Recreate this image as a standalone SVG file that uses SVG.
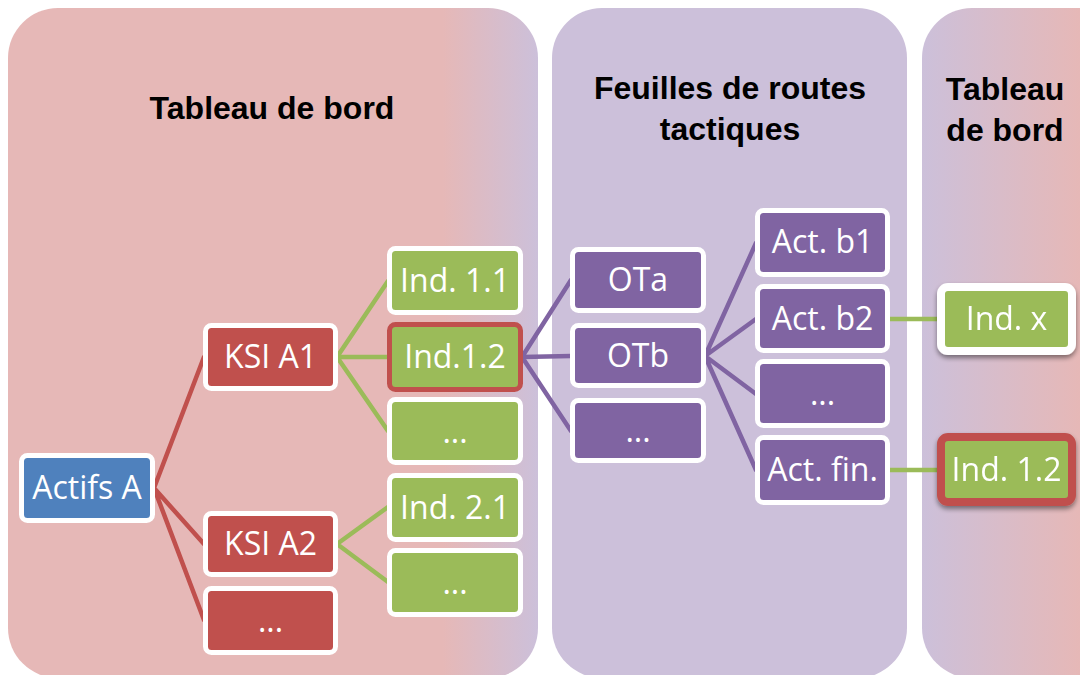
<svg xmlns="http://www.w3.org/2000/svg" width="1080" height="675" viewBox="0 0 1080 675">
  <defs>
    <linearGradient id="gPanel1" gradientUnits="userSpaceOnUse" x1="8" y1="0" x2="538" y2="0">
      <stop offset="0" stop-color="#E6B8B7"/>
      <stop offset="0.82" stop-color="#E6B8B7"/>
      <stop offset="1" stop-color="#CCC0DA"/>
    </linearGradient>
    <linearGradient id="gPanel3" gradientUnits="userSpaceOnUse" x1="922" y1="0" x2="1080" y2="0">
      <stop offset="0" stop-color="#CCC0DA"/>
      <stop offset="1" stop-color="#E6B8B7"/>
    </linearGradient>
    <filter id="shadow" x="-20%" y="-20%" width="140%" height="150%">
      <feGaussianBlur in="SourceAlpha" stdDeviation="2.5"/>
      <feOffset dx="0" dy="3" result="b"/>
      <feComponentTransfer><feFuncA type="linear" slope="0.45"/></feComponentTransfer>
      <feMerge><feMergeNode/><feMergeNode in="SourceGraphic"/></feMerge>
    </filter>
    <style>
      .title { font-family: "Liberation Sans", Arial, sans-serif; font-weight: bold; font-size: 32px; fill: #000; text-anchor: middle; }
      .lbl { font-family: "Open Sans", "Liberation Sans", sans-serif; font-size: 32px; fill: #fff; text-anchor: middle; }
      .node { stroke: #fff; stroke-width: 5; }
      .blue { fill: #4F81BD; }
      .red { fill: #C0504D; }
      .green { fill: #9BBB59; }
      .purple { fill: #8064A2; }
      .hl { stroke: #C0504D; }
      .c { fill: none; stroke-width: 4.5; stroke-linecap: round; }
      .cr { stroke: #C0504D; }
      .cg { stroke: #9BBB59; }
      .cp { stroke: #8064A2; }
    </style>
  </defs>

  <rect width="1080" height="675" fill="#fff"/>

  <g id="panels">
    <rect x="8" y="8" width="530" height="670" rx="50" fill="url(#gPanel1)"/>
    <rect x="552" y="8" width="355" height="670" rx="50" fill="#CCC0DA"/>
    <rect x="922" y="8" width="220" height="670" rx="50" fill="url(#gPanel3)"/>
    <text class="title" x="272" y="119">Tableau de bord</text>
    <text class="title" x="730" y="99">Feuilles de routes</text>
    <text class="title" x="730" y="140">tactiques</text>
    <text class="title" x="1005" y="100">Tableau</text>
    <text class="title" x="1005" y="141">de bord</text>
  </g>

  <g id="connectors">
    <path class="c cr" d="M154,488 L204,357 M154,488 L204,544 M154,488 L204,620"/>
    <path class="c cg" d="M337,357 L388,281 M337,357 L388,357 M337,357 L388,431"/>
    <path class="c cg" d="M337,544 L388,507 M337,544 L388,582"/>
    <path class="c cp" d="M522,357 L571,280 M522,357 L571,356 M522,357 L571,431"/>
    <path class="c cp" d="M705,356 L756,243 M705,356 L756,319 M705,356 L756,394 M705,356 L756,470"/>
    <path class="c cg" d="M889,319 L938,319 M889,470 L938,470"/>
  </g>

  <g id="n-actifs-a">
    <rect class="node blue" x="21.5" y="455.5" width="131" height="65" rx="6"/>
    <text class="lbl" x="87" y="499">Actifs A</text>
  </g>

  <g id="n-ksi-a1">
    <rect class="node red" x="205.5" y="325.5" width="130" height="63" rx="6"/>
    <text class="lbl" x="270.5" y="368">KSI A1</text>
  </g>
  <g id="n-ksi-a2">
    <rect class="node red" x="205.5" y="513.5" width="130" height="61" rx="6"/>
    <text class="lbl" x="270.5" y="555">KSI A2</text>
  </g>
  <g id="n-ksi-more">
    <rect class="node red" x="205.5" y="588.5" width="130" height="64" rx="6"/>
    <text class="lbl" x="270.5" y="632">...</text>
  </g>

  <g id="n-ind-1-1">
    <rect class="node green" x="389.5" y="248.5" width="131" height="64" rx="6"/>
    <text class="lbl" x="455" y="292">Ind. 1.1</text>
  </g>
  <g id="n-ind-1-2">
    <rect class="node green hl" x="389.5" y="324.5" width="131" height="65" rx="6"/>
    <text class="lbl" x="455" y="368">Ind.1.2</text>
  </g>
  <g id="n-ind-1-more">
    <rect class="node green" x="389.5" y="399.5" width="131" height="63" rx="6"/>
    <text class="lbl" x="455" y="443">...</text>
  </g>
  <g id="n-ind-2-1">
    <rect class="node green" x="389.5" y="475.5" width="131" height="64" rx="6"/>
    <text class="lbl" x="455" y="519">Ind. 2.1</text>
  </g>
  <g id="n-ind-2-more">
    <rect class="node green" x="389.5" y="550.5" width="131" height="64" rx="6"/>
    <text class="lbl" x="455" y="594">...</text>
  </g>

  <g id="n-ota">
    <rect class="node purple" x="572.5" y="249.5" width="131" height="61" rx="6"/>
    <text class="lbl" x="638" y="291">OTa</text>
  </g>
  <g id="n-otb">
    <rect class="node purple" x="572.5" y="325.5" width="131" height="60" rx="6"/>
    <text class="lbl" x="638" y="367">OTb</text>
  </g>
  <g id="n-ot-more">
    <rect class="node purple" x="572.5" y="400.5" width="131" height="60" rx="6"/>
    <text class="lbl" x="638" y="442">...</text>
  </g>

  <g id="n-act-b1">
    <rect class="node purple" x="757.5" y="210.5" width="130" height="64" rx="6"/>
    <text class="lbl" x="822.5" y="253">Act. b1</text>
  </g>
  <g id="n-act-b2">
    <rect class="node purple" x="757.5" y="286.5" width="130" height="64" rx="6"/>
    <text class="lbl" x="822.5" y="330">Act. b2</text>
  </g>
  <g id="n-act-more">
    <rect class="node purple" x="757.5" y="361.5" width="130" height="64" rx="6"/>
    <text class="lbl" x="822.5" y="405">...</text>
  </g>
  <g id="n-act-fin">
    <rect class="node purple" x="757.5" y="437.5" width="130" height="65" rx="6"/>
    <text class="lbl" x="822.5" y="481">Act. fin.</text>
  </g>

  <g id="n-ind-x" filter="url(#shadow)">
    <rect x="941" y="287" width="131" height="64" rx="7" fill="#9BBB59" stroke="#fff" stroke-width="8"/>
    <text class="lbl" x="1006.5" y="330">Ind. x</text>
  </g>
  <g id="n-ind-1-2-right" filter="url(#shadow)">
    <rect x="941" y="437" width="131" height="65" rx="7" fill="#9BBB59" stroke="#C0504D" stroke-width="8"/>
    <text class="lbl" x="1006.5" y="481">Ind. 1.2</text>
  </g>
</svg>
